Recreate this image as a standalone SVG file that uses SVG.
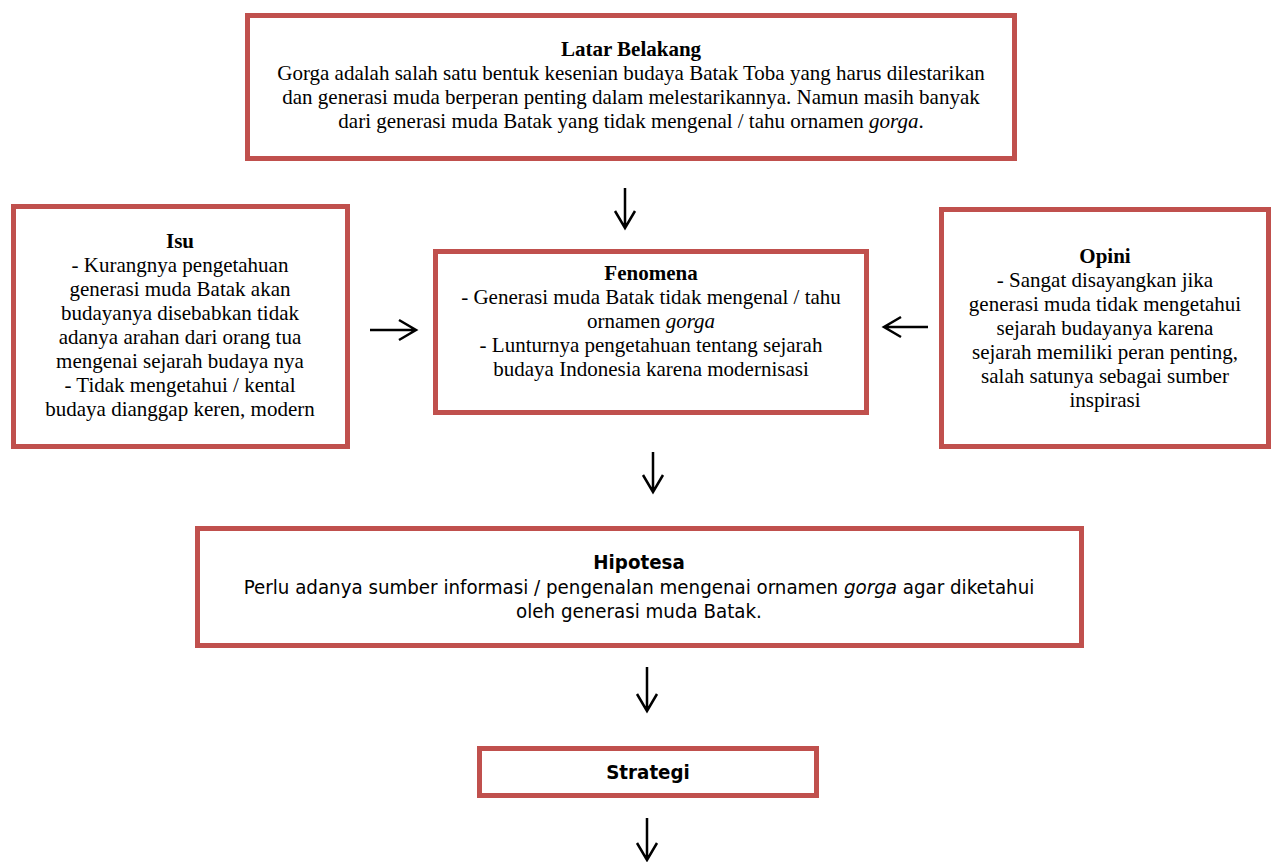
<svg xmlns="http://www.w3.org/2000/svg" width="1275" height="862" viewBox="0 0 1275 862">
<style>
.box{fill:#fff;stroke:#C0504D;stroke-width:5}
.t{font-family:"Liberation Serif","Times New Roman",serif;font-size:21px;fill:#000;text-anchor:middle}
.s{font-family:"DejaVu Sans Condensed","DejaVu Sans",sans-serif;font-size:20.3px;fill:#000;text-anchor:middle}
.b{font-weight:bold}
.i{font-style:italic}
.arr{fill:none;stroke:#000;stroke-width:2.5}
</style>
<rect width="1275" height="862" fill="#fff"/>
<g id="latar">
<rect class="box" x="247.5" y="15.5" width="767" height="143"/>
<text class="t b" x="631" y="56">Latar Belakang</text>
<text class="t" x="631" y="80">Gorga adalah salah satu bentuk kesenian budaya Batak Toba yang harus dilestarikan</text>
<text class="t" x="631" y="104">dan generasi muda berperan penting dalam melestarikannya. Namun masih banyak</text>
<text class="t" x="631" y="128">dari generasi muda Batak yang tidak mengenal / tahu ornamen <tspan class="i">gorga</tspan>.</text>
</g>
<g id="isu">
<rect class="box" x="13.5" y="206.5" width="334" height="240"/>
<text class="t b" x="180" y="248">Isu</text>
<text class="t" x="180" y="272">- Kurangnya pengetahuan</text>
<text class="t" x="180" y="296">generasi muda Batak akan</text>
<text class="t" x="180" y="320">budayanya disebabkan tidak</text>
<text class="t" x="180" y="344">adanya arahan dari orang tua</text>
<text class="t" x="180" y="368">mengenai sejarah budaya nya</text>
<text class="t" x="180" y="392">- Tidak mengetahui / kental</text>
<text class="t" x="180" y="416">budaya dianggap keren, modern</text>
</g>
<g id="fenomena">
<rect class="box" x="435.5" y="251.5" width="431" height="161"/>
<text class="t b" x="651" y="280">Fenomena</text>
<text class="t" x="651" y="304">- Generasi muda Batak tidak mengenal / tahu</text>
<text class="t" x="651" y="328">ornamen <tspan class="i">gorga</tspan></text>
<text class="t" x="651" y="352">- Lunturnya pengetahuan tentang sejarah</text>
<text class="t" x="651" y="376">budaya Indonesia karena modernisasi</text>
</g>
<g id="opini">
<rect class="box" x="941.5" y="209.5" width="327" height="237"/>
<text class="t b" x="1105" y="263">Opini</text>
<text class="t" x="1105" y="287">- Sangat disayangkan jika</text>
<text class="t" x="1105" y="311">generasi muda tidak mengetahui</text>
<text class="t" x="1105" y="335">sejarah budayanya karena</text>
<text class="t" x="1105" y="359">sejarah memiliki peran penting,</text>
<text class="t" x="1105" y="383">salah satunya sebagai sumber</text>
<text class="t" x="1105" y="407">inspirasi</text>
</g>
<g id="hipotesa">
<rect class="box" x="197.5" y="528.5" width="884" height="117"/>
<text class="s b" x="639" y="569">Hipotesa</text>
<text class="s" x="639" y="594">Perlu adanya sumber informasi / pengenalan mengenai ornamen <tspan class="i">gorga</tspan> agar diketahui</text>
<text class="s" x="639" y="618">oleh generasi muda Batak.</text>
</g>
<g id="strategi">
<rect class="box" x="479.5" y="748.5" width="337" height="47"/>
<text class="s b" x="648" y="779">Strategi</text>
</g>
<g id="connectors">
<path class="arr" d="M625 188V228M615 211L625 228L635 211"/>
<path class="arr" d="M653 452V492M643 475L653 492L663 475"/>
<path class="arr" d="M647 667V711M637 694L647 711L657 694"/>
<path class="arr" d="M647 818V860M637 843L647 860L657 843"/>
<path class="arr" d="M370 330H416M399 320L416 330L399 340"/>
<path class="arr" d="M928 327H884M901 317L884 327L901 337"/>
</g>
</svg>
